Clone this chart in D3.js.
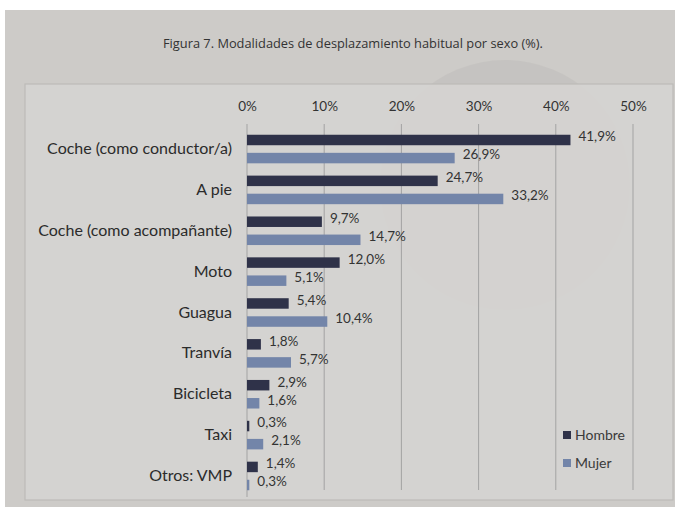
<!DOCTYPE html>
<html>
<head>
<meta charset="utf-8">
<script src="https://cdn.jsdelivr.net/npm/d3@7"></script>
<style>
  html, body { margin: 0; padding: 0; background: #ffffff; }
  svg { display: block; }
</style>
</head>
<body>
<svg id="chart" width="675" height="507"></svg>
<script>
// Modalidades de desplazamiento habitual por sexo (%)
const categories = [
  "Coche (como conductor/a)",
  "A pie",
  "Coche (como acompañante)",
  "Moto",
  "Guagua",
  "Tranvía",
  "Bicicleta",
  "Taxi",
  "Otros: VMP"
];
const hombre = [41.9, 24.7, 9.7, 12.0, 5.4, 1.8, 2.9, 0.3, 1.4];
const mujer  = [26.9, 33.2, 14.7, 5.1, 10.4, 5.7, 1.6, 2.1, 0.3];
const seriesNames = ["Hombre", "Mujer"];
const tickValues = [0, 10, 20, 30, 40, 50];
const titleText = "Figura 7. Modalidades de desplazamiento habitual por sexo (%).";

const colors = { Hombre: "#2f3249", Mujer: "#7385a9" };
const fmt = v => d3.format(".1f")(v).replace(".", ",") + "%";
const FONT = "Lato, 'Open Sans', sans-serif";

const svg = d3.select("#chart");
const W = 675, H = 507;

// page background
svg.append("rect").attr("width", W).attr("height", H).attr("fill", "#ffffff");
svg.append("rect").attr("x", 5).attr("y", 10).attr("width", W - 5).attr("height", H - 10)
  .attr("fill", "#cdcbc8");
// faint round shape printed behind the figure
svg.append("circle").attr("cx", 505).attr("cy", 185).attr("r", 125)
  .attr("fill", "#bdbbb8").attr("opacity", 0.45);

// chart frame
svg.append("rect").attr("x", 25).attr("y", 84).attr("width", W - 27).attr("height", 416)
  .attr("fill", "#d5d4d2").attr("fill-opacity", 0.9)
  .attr("stroke", "#bdbbb8").attr("stroke-width", 1.2);

// title
svg.append("text")
  .attr("x", 163).attr("y", 48)
  .attr("font-family", "'Open Sans', sans-serif")
  .attr("font-size", 12.6)
  .attr("textLength", 380)
  .attr("lengthAdjust", "spacingAndGlyphs")
  .attr("fill", "#333333")
  .text(titleText);

// scales
const x = d3.scaleLinear().domain([0, 50]).range([247, 633]);
const y0 = d3.scaleBand().domain(categories).range([128.6, 496.4]).paddingInner(0).paddingOuter(0);
const y1 = d3.scaleBand().domain(seriesNames).range([0, y0.bandwidth()])
  .paddingInner(0.42).paddingOuter(0.34);

// gridlines
svg.append("g").selectAll("line").data(tickValues).join("line")
  .attr("x1", d => x(d)).attr("x2", d => x(d))
  .attr("y1", 124).attr("y2", d => d === 0 ? 497 : 490)
  .attr("stroke", "#a3a3a3").attr("stroke-width", 1);

// top axis labels
const axis = d3.axisTop(x).tickValues(tickValues).tickSize(0).tickPadding(0)
  .tickFormat(d => d + "%");
const ax = svg.append("g").attr("transform", "translate(0,111)").call(axis);
ax.select(".domain").remove();
ax.selectAll("text")
  .attr("font-family", FONT)
  .attr("font-size", 13.5)
  .attr("fill", "#333333");

// category labels
const yAxis = d3.axisLeft(y0).tickSize(0).tickPadding(0);
const ay = svg.append("g").attr("transform", "translate(232,0)").call(yAxis);
ay.select(".domain").remove();
ay.selectAll("text")
  .attr("font-family", FONT)
  .attr("font-size", 16)
  .attr("fill", "#2b2b2b");

// bars
const rows = categories.map((c, i) => ({ cat: c, values: [
  { key: "Hombre", value: hombre[i] },
  { key: "Mujer", value: mujer[i] }
]}));

const groups = svg.append("g").selectAll("g").data(rows).join("g")
  .attr("transform", d => `translate(0,${y0(d.cat)})`);

groups.selectAll("rect").data(d => d.values).join("rect")
  .attr("x", x(0))
  .attr("y", d => y1(d.key))
  .attr("width", d => Math.max(1.5, x(d.value) - x(0)))
  .attr("height", y1.bandwidth())
  .attr("fill", d => colors[d.key]);

groups.selectAll("text").data(d => d.values).join("text")
  .attr("x", d => x(d.value) + 8)
  .attr("y", d => y1(d.key) + y1.bandwidth() / 2)
  .attr("dy", "0.1em")
  .attr("font-family", FONT)
  .attr("font-size", 13.5)
  .attr("fill", "#333333")
  .text(d => fmt(d.value));

// legend
const legend = svg.append("g").selectAll("g").data(seriesNames).join("g")
  .attr("transform", (d, i) => `translate(563,${431 + i * 28})`);
legend.append("rect").attr("width", 8).attr("height", 8).attr("fill", d => colors[d]);
legend.append("text")
  .attr("x", 12).attr("y", 4).attr("dy", "0.35em")
  .attr("font-family", FONT)
  .attr("font-size", 14)
  .attr("fill", "#3a3a3a")
  .text(d => d);
</script>
</body>
</html>
